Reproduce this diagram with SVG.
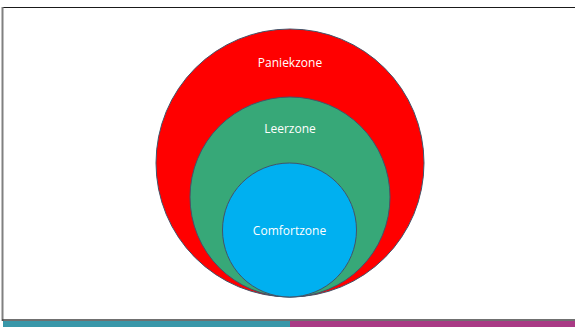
<svg xmlns="http://www.w3.org/2000/svg" width="575" height="327" viewBox="0 0 575 327">
<style>
.zone{stroke:#42546a;stroke-width:1}
.lbl{font-family:"Open Sans","Liberation Sans",sans-serif;font-size:12px;fill:#ffffff;text-anchor:middle;dominant-baseline:central}
</style>
<rect x="0" y="0" width="575" height="327" fill="#ffffff"/>
<line x1="2" y1="7.5" x2="575" y2="7.5" stroke="#1a1a1a" stroke-width="1.2"/>
<line x1="2.5" y1="7" x2="2.5" y2="321" stroke="#808080" stroke-width="2"/>
<line x1="2" y1="320" x2="575" y2="320" stroke="#404040" stroke-width="1.5"/>
<rect x="3" y="321" width="287" height="6" fill="#3997a9"/>
<rect x="290" y="321" width="285" height="6" fill="#a93a85"/>
<g id="paniekzone">
<circle class="zone" cx="290" cy="163" r="134" fill="#ff0000"/>
<text class="lbl" x="290" y="62">Paniekzone</text>
</g>
<g id="leerzone">
<circle class="zone" cx="290" cy="197" r="100" fill="#37a878"/>
<text class="lbl" x="290" y="128">Leerzone</text>
</g>
<g id="comfortzone">
<circle class="zone" cx="289.5" cy="230" r="67" fill="#00b0f0"/>
<text class="lbl" x="289.5" y="230">Comfortzone</text>
</g>
<g id="connectors"/>
</svg>
